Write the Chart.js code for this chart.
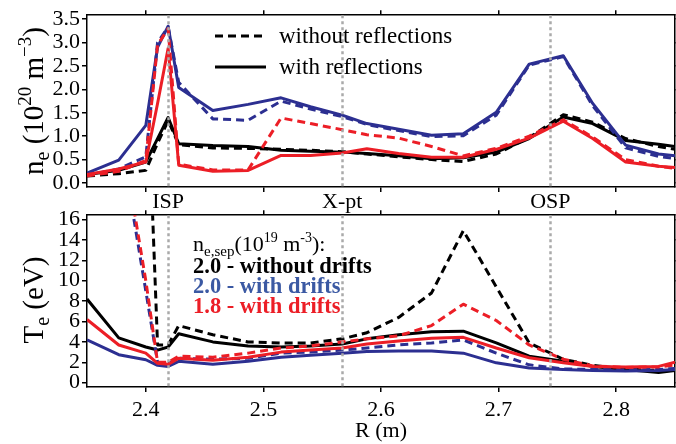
<!DOCTYPE html>
<html>
<head>
<meta charset="utf-8">
<script src="https://cdn.jsdelivr.net/npm/chart.js@4.4.1/dist/chart.umd.min.js"></script>
<style>
  html, body { margin: 0; padding: 0; background: #fff; }
  #wrap { position: relative; width: 676px; height: 444px; overflow: hidden; }
  #topChart { position: absolute; left: 0; top: 0; }
  #botChart { position: absolute; left: 0; top: 200px; }
</style>
</head>
<body>
<div id="wrap">
  <canvas id="topChart" width="676" height="214"></canvas>
  <canvas id="botChart" width="676" height="244"></canvas>
</div>
<script>
// R grid (m)
var R = [2.350, 2.377, 2.400, 2.410, 2.419, 2.428, 2.457, 2.487, 2.515, 2.540, 2.567,
         2.588, 2.615, 2.643, 2.670, 2.698, 2.726, 2.755, 2.780, 2.808, 2.836, 2.850];

// n_e (1e20 m^-3)
var neRefl20NoDrift   = [0.18, 0.27, 0.45, 0.95, 1.40, 0.84, 0.80, 0.78, 0.70, 0.68, 0.66, 0.63, 0.58, 0.52, 0.54, 0.66, 0.95, 1.41, 1.27, 0.91, 0.83, 0.78];
var neNoRefl20NoDrift = [0.15, 0.20, 0.27, 0.85, 1.33, 0.82, 0.75, 0.74, 0.72, 0.70, 0.67, 0.62, 0.56, 0.50, 0.46, 0.62, 0.97, 1.46, 1.30, 0.95, 0.78, 0.72];
var neRefl20Drift     = [0.21, 0.49, 1.23, 2.90, 3.35, 2.04, 1.55, 1.68, 1.82, 1.63, 1.45, 1.27, 1.15, 1.02, 1.05, 1.51, 2.54, 2.72, 1.70, 0.81, 0.62, 0.58];
var neNoRefl20Drift   = [0.17, 0.30, 0.56, 3.00, 3.33, 2.15, 1.37, 1.34, 1.75, 1.58, 1.42, 1.25, 1.12, 0.99, 1.01, 1.45, 2.52, 2.70, 1.65, 0.75, 0.57, 0.52];
var neRefl18Drift     = [0.18, 0.30, 0.45, 1.70, 2.88, 0.38, 0.25, 0.27, 0.59, 0.59, 0.64, 0.73, 0.63, 0.55, 0.55, 0.72, 0.96, 1.32, 0.95, 0.45, 0.36, 0.33];
var neNoRefl18Drift   = [0.15, 0.25, 0.48, 2.95, 3.30, 0.40, 0.28, 0.28, 1.39, 1.27, 1.14, 1.03, 0.96, 0.78, 0.58, 0.74, 1.00, 1.35, 0.98, 0.50, 0.36, 0.31];

// T_e (eV)
var teRefl20NoDrift   = [8.2, 4.4, 3.5, 3.2, 3.5, 4.8, 4.0, 3.6, 3.5, 3.6, 3.8, 4.3, 4.7, 5.0, 5.05, 3.9, 2.6, 2.1, 1.6, 1.3, 1.0, 1.2];
var teNoRefl20NoDrift = [80, 60, 34, 3.7, 3.7, 5.6, 4.7, 4.0, 3.9, 3.9, 4.3, 4.9, 6.4, 8.8, 14.9, 9.4, 3.9, 2.3, 1.7, 1.35, 1.2, 1.2];
var teRefl20Drift     = [4.2, 2.75, 2.25, 1.7, 1.6, 2.1, 1.8, 2.1, 2.5, 2.7, 2.9, 3.05, 3.1, 3.1, 2.9, 1.95, 1.45, 1.3, 1.2, 1.15, 1.2, 1.3];
var teNoRefl20Drift   = [45, 25, 9.0, 2.0, 1.9, 2.4, 2.3, 2.4, 2.9, 3.0, 3.2, 3.4, 3.7, 3.9, 4.2, 2.9, 1.75, 1.35, 1.3, 1.25, 1.3, 1.4];
var teRefl18Drift     = [6.2, 3.7, 2.9, 1.9, 1.8, 2.4, 2.2, 2.5, 3.0, 3.2, 3.4, 3.8, 4.1, 4.35, 4.45, 3.4, 2.45, 1.95, 1.6, 1.55, 1.6, 2.0];
var teNoRefl18Drift   = [46, 26, 10, 2.0, 2.0, 2.6, 2.5, 2.9, 3.4, 3.6, 4.0, 4.3, 4.6, 5.6, 7.7, 6.1, 3.7, 2.3, 1.65, 1.5, 1.55, 1.75];

// ticks and markers
var xTicks = [2.4, 2.5, 2.6, 2.7, 2.8];
var neTicks = [0.0, 0.5, 1.0, 1.5, 2.0, 2.5, 3.0, 3.5];
var teTicks = [0, 2, 4, 6, 8, 10, 12, 14, 16];
var markerNames = ['ISP', 'X-pt', 'OSP'];
var markerR = [2.419, 2.567, 2.744];

var FONT = '"Liberation Serif", "Times New Roman", serif';
var BLACK = '#000000';
var BLUE = 'rgb(44, 47, 145)';
var RED = 'rgb(236, 30, 38)';

function pts(arr) {
    return R.map(function (r, i) { return { x: r, y: arr[i] }; });
}

function line(arr, color, dashed, order) {
    return {
        data: pts(arr),
        borderColor: color,
        borderWidth: 3,
        borderDash: dashed ? [8, 5] : [],
        borderJoinStyle: 'round',
        pointRadius: 0,
        tension: 0,
        fill: false,
        order: order
    };
}

function drawRuns(ctx, runs, x, y, center) {
    var w = 0;
    runs.forEach(function (r) {
        ctx.font = (r[3] || '') + ' ' + r[1] + 'px ' + FONT;
        w += ctx.measureText(r[0]).width;
    });
    var cx = center ? x - w / 2 : x;
    runs.forEach(function (r) {
        ctx.font = (r[3] || '') + ' ' + r[1] + 'px ' + FONT;
        ctx.fillText(r[0], cx, y + r[2]);
        cx += ctx.measureText(r[0]).width;
    });
}

function markerLines(chart) {
    var ctx = chart.ctx, a = chart.chartArea, xs = chart.scales.x;
    ctx.save();
    ctx.strokeStyle = '#aaaaaa';
    ctx.lineWidth = 2.5;
    ctx.setLineDash([3, 3]);
    markerR.forEach(function (m) {
        var px = Math.round(xs.getPixelForValue(m)) + 0.5;
        ctx.beginPath();
        ctx.moveTo(px, a.top);
        ctx.lineTo(px, a.bottom);
        ctx.stroke();
    });
    ctx.restore();
}

function buildOptions(yMin, yMax, yTicks, yFmt, xLabels, xAxisH) {
    var g = { drawOnChartArea: false, drawTicks: true, tickLength: 5, color: BLACK, lineWidth: 1.5 };
    var b = { display: true, color: BLACK, width: 1.5 };
    var setX = function (s) { s.ticks = xTicks.map(function (v) { return { value: v }; }); };
    var setY = function (s) { s.ticks = yTicks.map(function (v) { return { value: v }; }); };
    return {
        responsive: false,
        animation: false,
        events: [],
        layout: { padding: 0 },
        plugins: { legend: { display: false }, tooltip: { enabled: false } },
        scales: {
            x: {
                type: 'linear', position: 'bottom', min: 2.35, max: 2.85,
                afterBuildTicks: setX,
                ticks: { display: xLabels, color: BLACK, font: { family: FONT, size: 22 }, padding: 5,
                         maxRotation: 0, autoSkip: false, callback: function (v) { return v.toFixed(1); } },
                grid: g, border: b,
                afterFit: function (s) { s.height = xAxisH; }
            },
            x2: {
                type: 'linear', position: 'top', min: 2.35, max: 2.85,
                afterBuildTicks: setX,
                ticks: { display: false },
                grid: g, border: b,
                afterFit: function (s) { s.height = 14; }
            },
            y: {
                type: 'linear', position: 'left', min: yMin, max: yMax,
                afterBuildTicks: setY,
                ticks: { color: BLACK, font: { family: FONT, size: 22 }, padding: 2, autoSkip: false, callback: yFmt },
                grid: g, border: b,
                afterFit: function (s) { s.width = 87; }
            },
            y2: {
                type: 'linear', position: 'right', min: yMin, max: yMax,
                afterBuildTicks: setY,
                ticks: { display: false, autoSkip: false },
                grid: { drawOnChartArea: false, drawTicks: true, tickLength: 4, color: BLACK, lineWidth: 1.5 },
                border: b,
                afterFit: function (s) { s.width = 1; }
            }
        }
    };
}

// top panel: density
var topDecor = {
    id: 'topDecor',
    afterDatasetsDraw: markerLines,
    afterDraw: function (chart) {
        var ctx = chart.ctx, xs = chart.scales.x;
        ctx.save();
        ctx.fillStyle = BLACK;
        ctx.strokeStyle = BLACK;
        ctx.lineWidth = 3;
        // legend
        ctx.setLineDash([8, 5]);
        ctx.beginPath(); ctx.moveTo(215, 36); ctx.lineTo(266, 36); ctx.stroke();
        ctx.setLineDash([]);
        ctx.beginPath(); ctx.moveTo(215, 67); ctx.lineTo(266, 67); ctx.stroke();
        ctx.font = '23px ' + FONT;
        ctx.textAlign = 'left';
        ctx.textBaseline = 'alphabetic';
        ctx.fillText('without reflections', 279, 43);
        ctx.fillText('with reflections', 279, 74);
        // strike point / x-point labels
        ctx.font = '22px ' + FONT;
        ctx.textAlign = 'center';
        markerNames.forEach(function (n, i) {
            ctx.fillText(n, xs.getPixelForValue(markerR[i]), 208);
        });
        // y title
        ctx.textAlign = 'left';
        ctx.translate(43, 101);
        ctx.rotate(-Math.PI / 2);
        drawRuns(ctx, [['n', 29, 0], ['e', 20, 6], [' (10', 29, 0], ['20', 19, -12],
                       [' m', 29, 0], ['\u22123', 19, -12], [')', 29, 0]], 0, 0, true);
        ctx.restore();
    }
};

new Chart(document.getElementById('topChart').getContext('2d'), {
    type: 'line',
    data: {
        datasets: [
            line(neRefl18Drift, RED, false, 1),
            line(neNoRefl18Drift, RED, true, 2),
            line(neRefl20Drift, BLUE, false, 3),
            line(neNoRefl20Drift, BLUE, true, 4),
            line(neRefl20NoDrift, BLACK, false, 5),
            line(neNoRefl20NoDrift, BLACK, true, 6)
        ]
    },
    options: buildOptions(-0.085, 3.585, neTicks, function (v) { return v.toFixed(1); }, false, 27),
    plugins: [topDecor]
});

// bottom panel: temperature
var botDecor = {
    id: 'botDecor',
    afterDatasetsDraw: markerLines,
    afterDraw: function (chart) {
        var ctx = chart.ctx;
        ctx.save();
        ctx.textAlign = 'left';
        ctx.textBaseline = 'alphabetic';
        ctx.fillStyle = BLACK;
        drawRuns(ctx, [['n', 22, 0], ['e,sep', 15, 5], ['(10', 22, 0], ['19', 14, -9],
                       [' m', 22, 0], ['-3', 14, -9], ['):', 22, 0]], 193, 51, false);
        ctx.font = 'bold 22.5px ' + FONT;
        ctx.fillStyle = BLACK;
        ctx.fillText('2.0 - without drifts', 193, 73);
        ctx.fillStyle = 'rgb(59, 89, 163)';
        ctx.fillText('2.0 - with drifts', 193, 93);
        ctx.fillStyle = RED;
        ctx.fillText('1.8 - with drifts', 193, 113);
        // x title
        ctx.fillStyle = BLACK;
        ctx.font = '22px ' + FONT;
        ctx.textAlign = 'center';
        ctx.fillText('R (m)', 381, 237);
        // y title
        ctx.textAlign = 'left';
        ctx.translate(43, 100);
        ctx.rotate(-Math.PI / 2);
        drawRuns(ctx, [['T', 29, 0], ['e', 20, 6], [' (eV)', 29, 0]], 0, 0, true);
        ctx.restore();
    }
};

new Chart(document.getElementById('botChart').getContext('2d'), {
    type: 'line',
    data: {
        datasets: [
            line(teRefl18Drift, RED, false, 1),
            line(teNoRefl18Drift, RED, true, 2),
            line(teRefl20Drift, BLUE, false, 3),
            line(teNoRefl20Drift, BLUE, true, 4),
            line(teRefl20NoDrift, BLACK, false, 5),
            line(teNoRefl20NoDrift, BLACK, true, 6)
        ]
    },
    options: buildOptions(-0.42, 16.42, teTicks, function (v) { return String(v); }, true, 57),
    plugins: [botDecor]
});
</script>
</body>
</html>
